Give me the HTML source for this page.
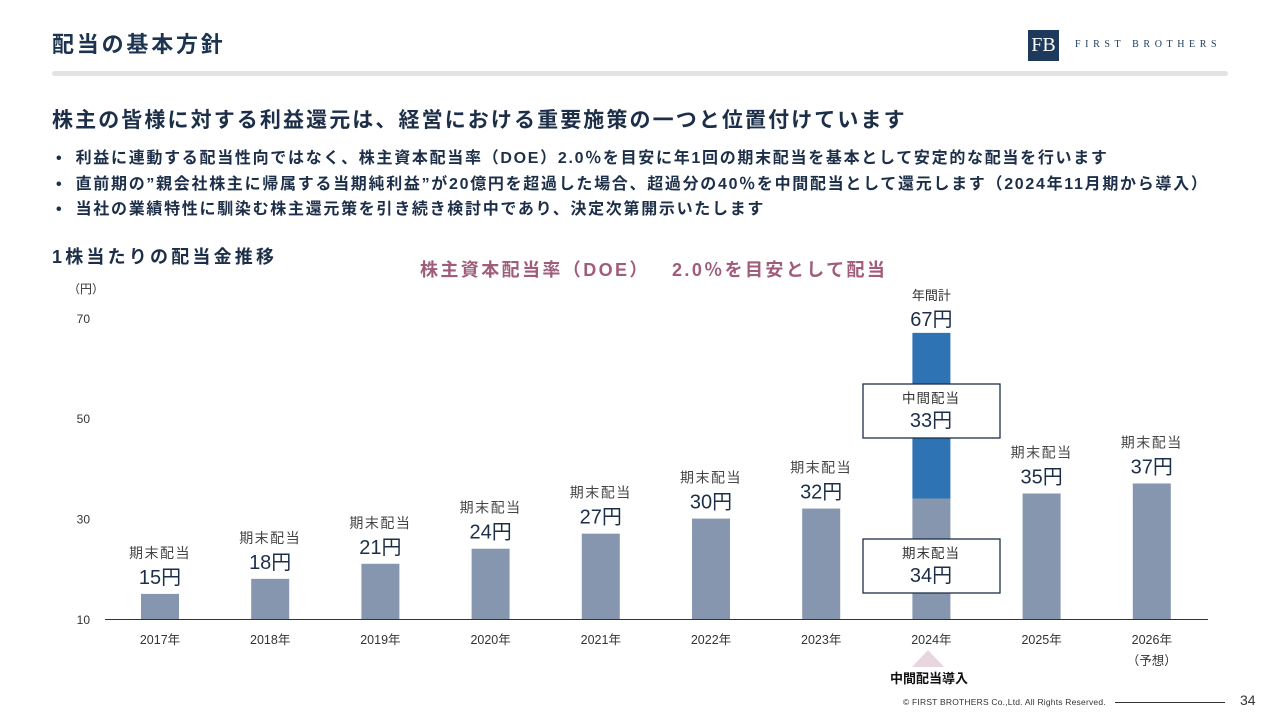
<!DOCTYPE html>
<html><head><meta charset="utf-8"><style>
body{margin:0;width:1280px;height:720px;background:#fff;position:relative;overflow:hidden;font-family:"Liberation Sans","Noto Sans CJK JP",sans-serif;color:#1d2f48}
.a{position:absolute;white-space:nowrap}
</style></head><body>
<div class="a" style="left:52px;top:27px;font-size:22px;font-weight:bold;color:#1d3450;letter-spacing:2.8px">配当の基本方針</div>
<div class="a" style="left:1028px;top:30px;width:31px;height:31px;background:#1d3a5c;color:#fff;font-family:'Liberation Serif',serif;font-size:20px;text-align:center;line-height:31px">FB</div>
<div class="a" style="left:1075px;top:39px;font-family:'Liberation Serif',serif;font-size:10px;letter-spacing:4.6px;color:#1d3a5c">FIRST BROTHERS</div>
<div class="a" style="left:52px;top:71px;width:1176px;height:5px;background:#e3e3e3;border-radius:3px"></div>
<div class="a" style="left:52px;top:104px;font-size:21px;font-weight:bold;letter-spacing:2.1px">株主の皆様に対する利益還元は、経営における重要施策の一つと位置付けています</div>
<div class="a" style="left:56px;top:146px;font-size:16px;font-weight:bold;line-height:25.5px;letter-spacing:1.7px">
<div>•&nbsp;&nbsp;利益に連動する配当性向ではなく、株主資本配当率（DOE）2.0％を目安に年1回の期末配当を基本として安定的な配当を行います</div>
<div>•&nbsp;&nbsp;直前期の”親会社株主に帰属する当期純利益”が20億円を超過した場合、超過分の40％を中間配当として還元します（2024年11月期から導入）</div>
<div>•&nbsp;&nbsp;当社の業績特性に馴染む株主還元策を引き続き検討中であり、決定次第開示いたします</div></div>
<div class="a" style="left:52px;top:243px;font-size:18px;font-weight:bold;letter-spacing:3.2px">1株当たりの配当金推移</div>
<div class="a" style="left:420px;top:256px;font-size:18px;font-weight:bold;color:#a05c7b;letter-spacing:2.4px">株主資本配当率（DOE）&nbsp;&nbsp;&nbsp;2.0％を目安として配当</div>
<svg id="c" class="a" style="left:0;top:0" width="1280" height="720"></svg>
<div class="a" style="left:903px;top:697px;font-size:8.5px;color:#333;letter-spacing:0.2px">© FIRST BROTHERS Co.,Ltd. All Rights Reserved.</div>
<div class="a" style="left:1115px;top:702px;width:110px;height:1px;background:#333"></div>
<div class="a" style="left:1240px;top:692px;font-size:14px;color:#333">34</div>
<script>
const years=["2017年","2018年","2019年","2020年","2021年","2022年","2023年","2024年","2025年","2026年"];
const finalDiv=[15,18,21,24,27,30,32,34,35,37];
const interimDiv=[0,0,0,0,0,0,0,33,0,0];
const yTicks=[10,30,50,70];
const NS="http://www.w3.org/2000/svg",svg=document.getElementById('c');
const y=v=>619-(v-10)*5.02, x=i=>160+i*110.2;
function mk(t,a,txt){const e=document.createElementNS(NS,t);for(const k in a)e.setAttribute(k,a[k]);if(txt!=null)e.textContent=txt;svg.appendChild(e);return e;}
const F='"Liberation Sans","Noto Sans CJK JP",sans-serif';
let e=mk('text',{x:68,y:293,'font-size':12,fill:'#333','font-family':F},'（円）');

yTicks.forEach(t=>{const l=mk('text',{x:90,y:y(t)+5,'font-size':12,fill:'#333','text-anchor':'end','font-family':F},t);
});
years.forEach((yr,i)=>{
 const cx=x(i),base=y(10),ft=y(finalDiv[i]);
 const b=mk('rect',{x:cx-19,y:ft,width:38,height:base-ft,fill:'#8696ae'});
 
 const l=mk('text',{x:cx,y:644,'font-size':12.5,fill:'#333','text-anchor':'middle','font-family':F},yr);
 
 if(interimDiv[i]>0){
  const tt=y(finalDiv[i]+interimDiv[i]);
  const bb=mk('rect',{x:cx-19,y:tt,width:38,height:ft-tt,fill:'#2e74b5'});
  
  let t1=mk('text',{x:cx,y:tt-33,'font-size':13,fill:'#333','text-anchor':'middle','font-family':F},'年間計');
  
  let t2=mk('text',{x:cx,y:tt-7,'font-size':20,fill:'#1d2f48','text-anchor':'middle','font-family':F},(finalDiv[i]+interimDiv[i])+'円');
  
  [[384,'中間配当',interimDiv[i],'interim-box'],[539,'期末配当',finalDiv[i],'final-box']].forEach(([by,lab,v,n])=>{
   const r=mk('rect',{x:863,y:by,width:137,height:54,fill:'#fff',stroke:'#1d2f48','stroke-width':1.3});
   
   mk('text',{x:931,y:by+19,'font-size':13.5,fill:'#333','text-anchor':'middle','font-family':F,'letter-spacing':1},lab);
   mk('text',{x:931,y:by+43,'font-size':20,fill:'#1d2f48','text-anchor':'middle','font-family':F},v+'円');
  });
 }else{
  let t1=mk('text',{x:cx,y:ft-36,'font-size':14,fill:'#444','text-anchor':'middle','font-family':F,'letter-spacing':1.5},'期末配当');
  
  let t2=mk('text',{x:cx,y:ft-10,'font-size':20,fill:'#1d2f48','text-anchor':'middle','font-family':F},finalDiv[i]+'円');
  
 }
});
e=mk('text',{x:x(9),y:665,'font-size':12.5,fill:'#333','text-anchor':'middle','font-family':F},'（予想）');

e=mk('line',{x1:105,x2:1208,y1:619.5,y2:619.5,stroke:'#333','stroke-width':1});

e=mk('polygon',{points:'928,650 912,667 944,667',fill:'#e8d6de'});

e=mk('text',{x:929,y:683,'font-size':13,'font-weight':'bold',fill:'#111','text-anchor':'middle','font-family':F},'中間配当導入');

</script>
</body></html>
